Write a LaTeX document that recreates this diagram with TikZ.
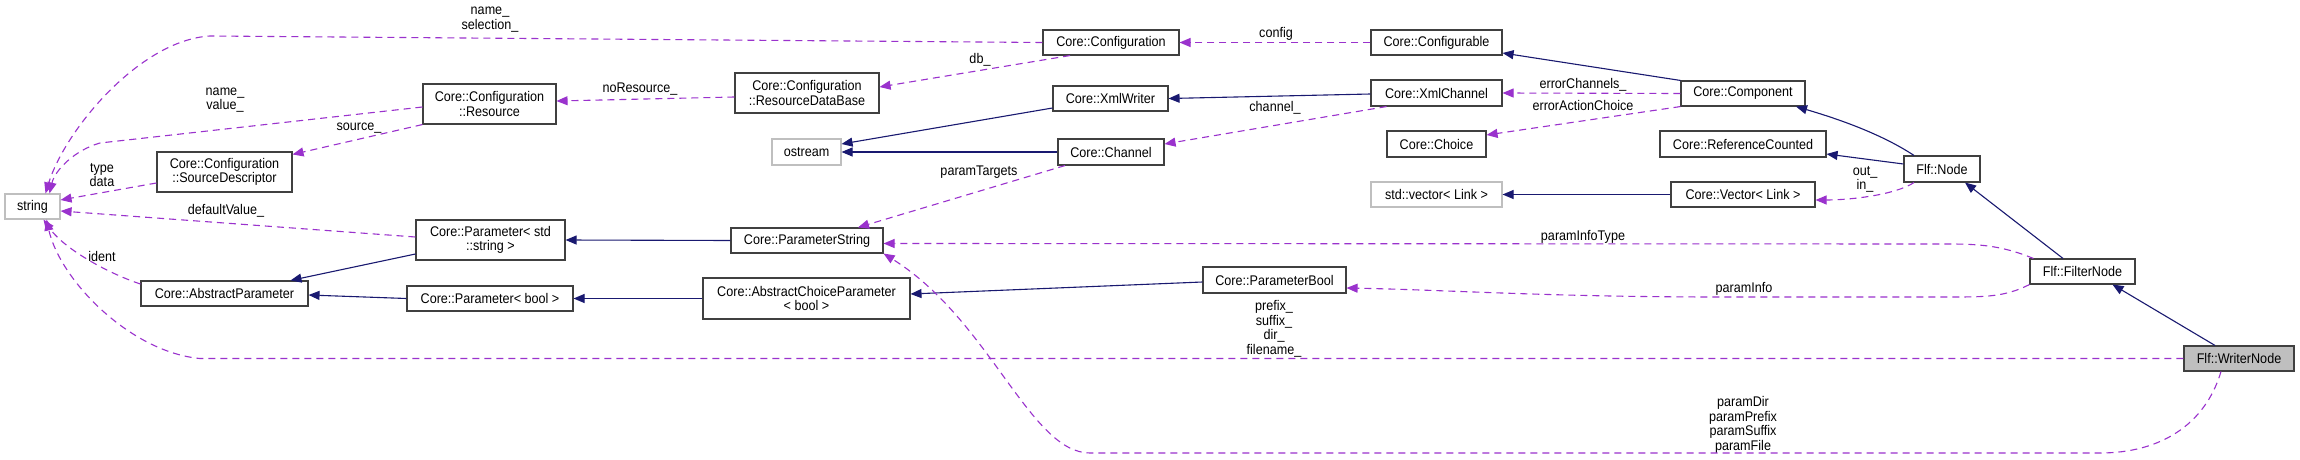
\documentclass[tikz,border=0pt]{standalone}
\usepackage{fontspec}
\setmainfont{Liberation Sans}[FakeStretch=0.9]
\usetikzlibrary{arrows.meta}
\definecolor{inh}{HTML}{191970}
\definecolor{use}{HTML}{9A32CD}
\definecolor{bord}{HTML}{404040}
\definecolor{ext}{HTML}{BFBFBF}
\begin{document}
\begin{tikzpicture}[x=1pt,y=-1pt,
 every node/.style={font=\fontsize{14}{14.6}\selectfont},
 cls/.style={draw=bord,line width=1.1pt,fill=white,inner sep=0pt,align=center},
 extcls/.style={cls,draw=ext},
 inherit/.style={draw=inh,line width=1.1pt,-{Triangle[length=11pt,width=9pt]}},
 uses/.style={draw=use,line width=1.1pt,dash pattern=on 7pt off 5pt,-{Triangle[length=11pt,width=9pt]}},
 lbl/.style={inner sep=0pt,align=center}]
\useasboundingbox[fill=white] (0,0) rectangle (2300,460);

% classes
\node[extcls,minimum width=55pt,minimum height=25pt] (string) at (32.5,206.5) {string};
\node[cls,minimum width=133pt,minimum height=40pt] (resource) at (489.5,104) {Core::Configuration\\::Resource};
\node[cls,minimum width=135pt,minimum height=40pt] (srcdesc) at (224.5,172) {Core::Configuration\\::SourceDescriptor};
\node[cls,minimum width=149pt,minimum height=40pt] (pstdstr) at (490.5,240) {Core::Parameter< std\\::string >};
\node[cls,minimum width=167pt,minimum height=25pt] (absparam) at (224.5,293.5) {Core::AbstractParameter};
\node[cls,minimum width=166pt,minimum height=25pt] (pbool) at (490,298.5) {Core::Parameter< bool >};
\node[cls,minimum width=136pt,minimum height=25pt] (config) at (1111,42.5) {Core::Configuration};
\node[cls,minimum width=144pt,minimum height=40pt] (rdb) at (807,93) {Core::Configuration\\::ResourceDataBase};
\node[cls,minimum width=115pt,minimum height=25pt] (xmlwriter) at (1110.5,98.5) {Core::XmlWriter};
\node[extcls,minimum width=69pt,minimum height=26pt] (ostream) at (806.5,152) {ostream};
\node[cls,minimum width=106pt,minimum height=26pt] (channel) at (1111,152) {Core::Channel};
\node[cls,minimum width=152pt,minimum height=25pt] (pstring) at (807,240.5) {Core::ParameterString};
\node[cls,minimum width=207pt,minimum height=41pt] (acp) at (806.5,298.5) {Core::AbstractChoiceParameter\\< bool >};
\node[cls,minimum width=143pt,minimum height=26pt] (parambool) at (1274.5,280) {Core::ParameterBool};
\node[cls,minimum width=131pt,minimum height=25pt] (configurable) at (1436.5,42.5) {Core::Configurable};
\node[cls,minimum width=131pt,minimum height=26pt] (xmlchannel) at (1436.5,93) {Core::XmlChannel};
\node[cls,minimum width=99pt,minimum height=26pt] (choice) at (1436.5,144) {Core::Choice};
\node[extcls,minimum width=131pt,minimum height=25pt] (stdvector) at (1436.5,194.5) {std::vector< Link >};
\node[cls,minimum width=124pt,minimum height=25pt] (component) at (1743,93.5) {Core::Component};
\node[cls,minimum width=166pt,minimum height=26pt] (refcount) at (1743,144) {Core::ReferenceCounted};
\node[cls,minimum width=144pt,minimum height=25pt] (vector) at (1743,194.5) {Core::Vector< Link >};
\node[cls,minimum width=76pt,minimum height=26pt] (flfnode) at (1942,169) {Flf::Node};
\node[cls,minimum width=105pt,minimum height=25pt] (filternode) at (2082.5,271.5) {Flf::FilterNode};
\node[cls,fill=ext,minimum width=110pt,minimum height=25pt] (writernode) at (2239,358.5) {Flf::WriterNode};

% labels
\node[lbl] (lnamesel) at (490,19.5) {name\_\\selection\_};
\node[lbl] (lnameval) at (225,100) {name\_\\value\_};
\node[lbl] (lsource) at (359,128) {source\_};
\node[lbl] (lnores) at (640,89) {noResource\_};
\node[lbl] (ltype) at (102,175) {type\\data};
\node[lbl] (ldef) at (226,211) {defaultValue\_};
\node[lbl] (lident) at (102,256) {ident};
\node[lbl] (ldb) at (980,60) {db\_};
\node[lbl] (lconfig) at (1276,34) {config};
\node[lbl] (lchannel) at (1275,108) {channel\_};
\node[lbl] (lptargets) at (979,172) {paramTargets};
\node[lbl] (lerrch) at (1583,85) {errorChannels\_};
\node[lbl] (lerract) at (1583,105) {errorActionChoice};
\node[lbl] (loutin) at (1865,179.5) {out\_\\in\_};
\node[lbl] (lpit) at (1583,237) {paramInfoType};
\node[lbl] (lpi) at (1744,289) {paramInfo};
\node[lbl] (lpref) at (1274,329) {prefix\_\\suffix\_\\dir\_\\filename\_};
\node[lbl] (lpdir) at (1743,425) {paramDir\\paramPrefix\\paramSuffix\\paramFile};

% inheritance
\draw[inherit] ([yshift=-14pt]pstdstr.west) -- ([xshift=66pt]absparam.north);
\draw[inherit] (pbool.west) -- ([yshift=-1.5pt]absparam.east);
\draw[inherit] (acp.west) -- (pbool.east);
\draw[inherit] (pstring.west) -- (pstdstr.east);
\draw[inherit] ([yshift=-2pt]parambool.west) -- ([yshift=4.5pt]acp.east);
\draw[inherit] ([yshift=-1pt]xmlchannel.west) -- (xmlwriter.east);
\draw[inherit] ([yshift=-9.5pt]xmlwriter.west) -- ([yshift=8pt]ostream.east);
\draw[inherit] (channel.west) -- (ostream.east);
\draw[inherit] (component.north west) -- ([yshift=-10.5pt]configurable.east);
\draw[inherit] ([xshift=-28pt]flfnode.north) .. controls (1880,133) and (1835,118) .. ([xshift=53pt]component.south);
\draw[inherit] ([yshift=5pt]flfnode.west) -- ([yshift=-10pt]refcount.east);
\draw[inherit] (vector.west) -- (stdvector.east);
\draw[inherit] ([xshift=-19.5pt]filternode.north) -- ([xshift=23pt]flfnode.south);
\draw[inherit] ([xshift=-24pt]writernode.north) -- ([xshift=30pt]filternode.south);

% usage
\draw[uses] (config.west) -- (210,36) .. controls (140,40) and (65,130) .. ([xshift=13pt]string.north);
\draw[uses] ([yshift=-3pt]resource.west) -- (100,143) .. controls (75,150) and (55,170) .. ([xshift=17pt]string.north);
\draw[uses] ([yshift=-11pt]srcdesc.west) -- ([yshift=6.5pt]string.east);
\draw[uses] ([yshift=3pt]pstdstr.west) -- ([yshift=-4.5pt]string.east);
\draw[uses] ([yshift=9.5pt]absparam.west) .. controls (110,274) and (65,250) .. ([xshift=11pt]string.south);
\draw[uses] (writernode.west) -- (200,358.5) .. controls (130,352) and (60,280) .. ([xshift=14pt]string.south);
\draw[uses] (configurable.west) -- (config.east);
\draw[uses] ([xshift=-41pt]config.south) -- ([yshift=6pt]rdb.east);
\draw[uses] ([yshift=-4pt]rdb.west) -- ([yshift=3pt]resource.east);
\draw[uses] (resource.south west) -- ([yshift=-3pt]srcdesc.north east);
\draw[uses] ([xshift=-50pt]xmlchannel.south) -- ([yshift=8pt]channel.east);
\draw[uses] ([xshift=-46pt]channel.south) -- ([xshift=51pt]pstring.north);
\draw[uses] (component.west) -- (xmlchannel.east);
\draw[uses] (component.south west) -- ([yshift=9pt]choice.east);
\draw[uses] ([xshift=-28pt]flfnode.south) .. controls (1895,195) and (1850,200) .. ([yshift=-5.5pt]vector.east);
\draw[uses] ([xshift=4pt]filternode.north west) .. controls (2005,247) and (1985,244) .. (1950,244) -- ([yshift=-3pt]pstring.east);
\draw[uses] (filternode.south west) .. controls (2005,297) and (1985,297) .. (1950,297) -- (1720,297) .. controls (1550,297) and (1450,290) .. ([yshift=-8pt]parambool.east);
\draw[uses] ([xshift=-18pt]writernode.south) .. controls (2205,425) and (2160,453) .. (2100,453) -- (1090,453) .. controls (1030,453) and (990,320) .. (pstring.south east);
\end{tikzpicture}
\end{document}
